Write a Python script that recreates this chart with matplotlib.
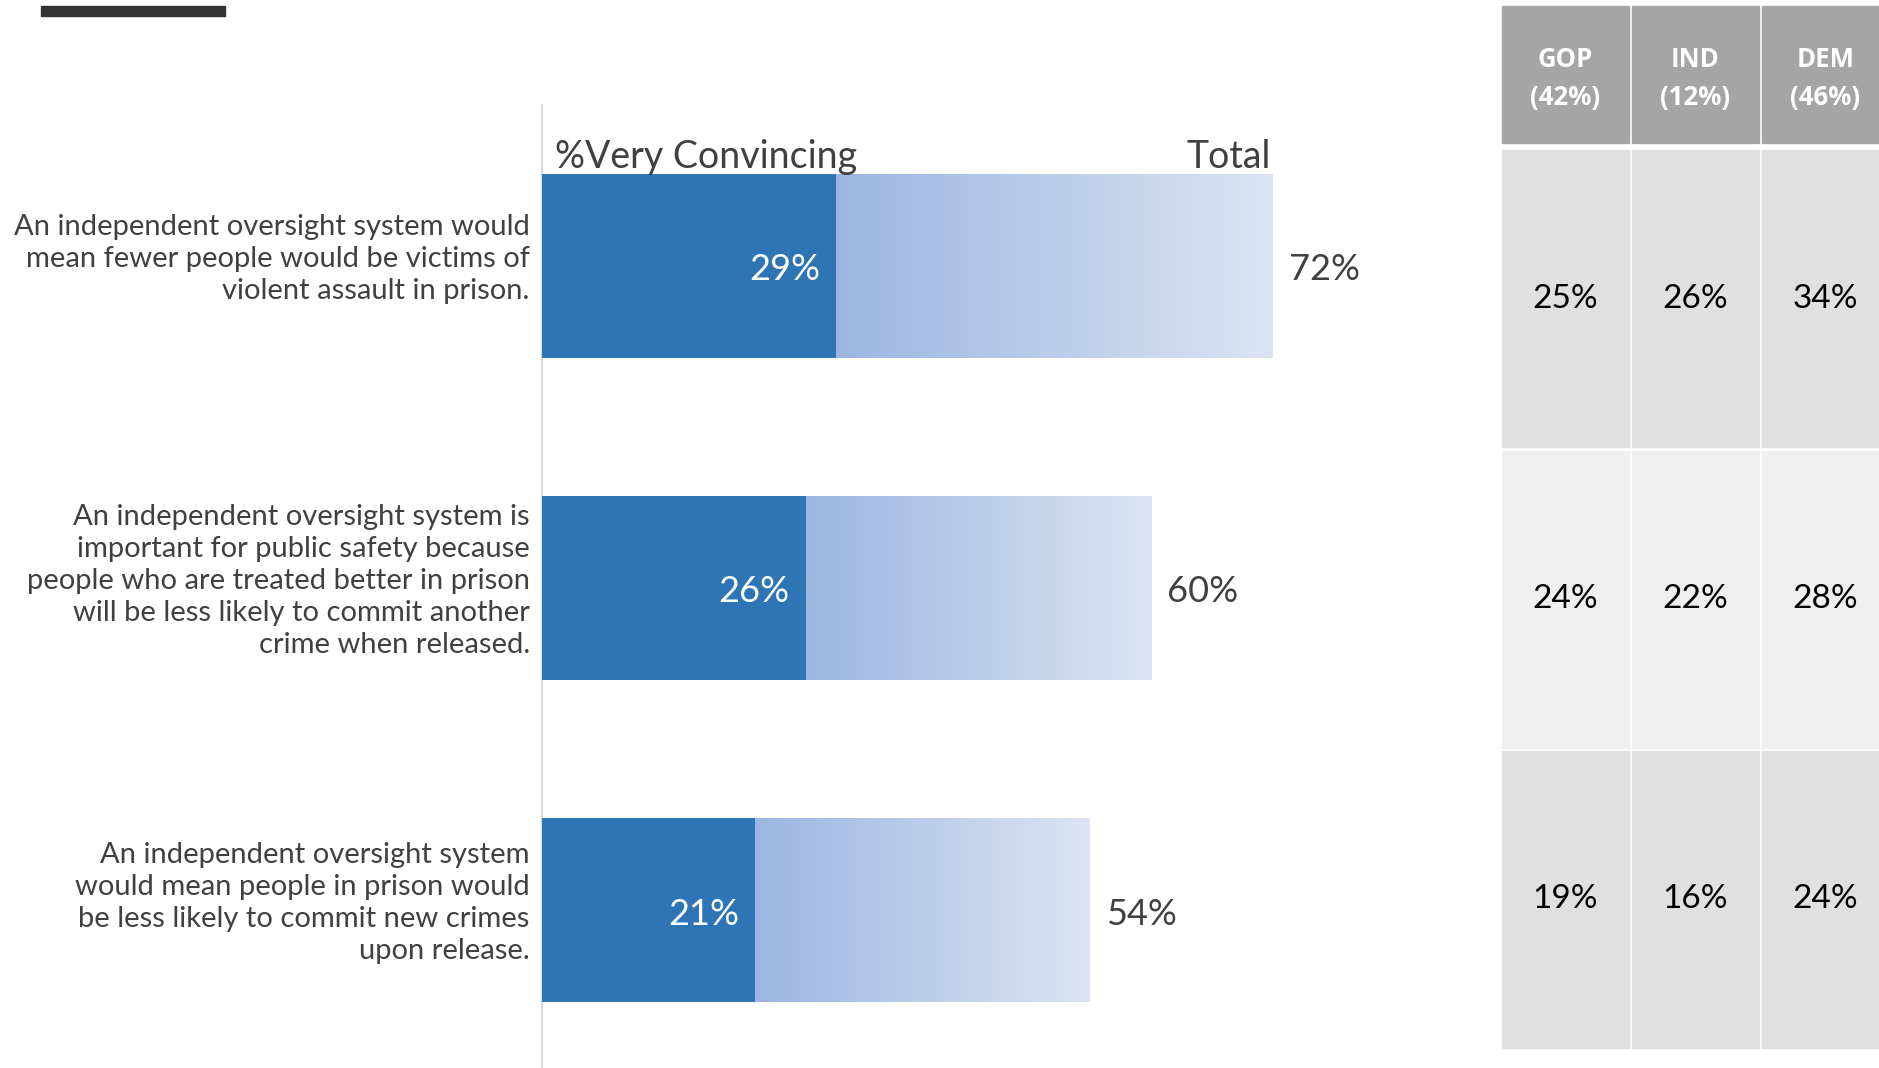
import numpy as np
import matplotlib.pyplot as plt
from matplotlib.colors import LinearSegmentedColormap
from matplotlib.patches import Rectangle

plt.rcParams['font.family'] = ['Lato', 'DejaVu Sans']

# data
statements = [
    "An independent oversight system would\nmean fewer people would be victims of\nviolent assault in prison.",
    "An independent oversight system is\nimportant for public safety because\npeople who are treated better in prison\nwill be less likely to commit another\ncrime when released.",
    "An independent oversight system\nwould mean people in prison would\nbe less likely to commit new crimes\nupon release.",
]
very_convincing = [29, 26, 21]
total = [72, 60, 54]
parties = ["GOP", "IND", "DEM"]
party_share = ["(42%)", "(12%)", "(46%)"]
gop = [25, 24, 19]
ind = [26, 22, 16]
dem = [34, 28, 24]

W, H = 1879, 1068
fig = plt.figure(figsize=(W / 100, H / 100), dpi=100)
txt = '#404040'

# bar panel: starts at x=542px, 10.15 px per percent
ax = fig.add_axes([542 / W, 0, 1015 / W, 1 - 105 / H])
ax.patch.set_visible(False)
for s in ['top', 'right', 'bottom']:
    ax.spines[s].set_visible(False)
ax.spines['left'].set_color('#d9d9d9')
ax.spines['left'].set_linewidth(1.5)
ax.set_xticks([])
ax.set_yticks([])

y = np.arange(len(statements))
h = 0.571
cmap = LinearSegmentedColormap.from_list('fade', ['#9bb6e1', '#dce4f3'])
grad = np.linspace(0, 1, 256).reshape(1, -1)

ax.barh(y, very_convincing, height=h, color='#2e75b6', zorder=3)
for yi, vc, tot in zip(y, very_convincing, total):
    ax.imshow(grad, cmap=cmap, extent=[vc, tot, yi + h / 2, yi - h / 2],
              aspect='auto', zorder=2, interpolation='bilinear')
    ax.text(vc - 1.6, yi + 0.012, f"{vc}%", ha='right', va='center', color='white',
            fontsize=26, zorder=4)
    ax.text(tot + 1.6, yi + 0.012, f"{tot}%", ha='left', va='center', color=txt,
            fontsize=26)

for yi, lab in zip(y, statements):
    ax.text(-1.2, yi - 0.022, lab, ha='right', va='center', color=txt,
            fontsize=21, linespacing=1.28)

ax.text(1.3, -0.304, "%Very Convincing", ha='left', va='baseline', color=txt,
        fontsize=27)
ax.text(total[0] - 0.2, -0.304, "Total", ha='right', va='baseline', color=txt,
        fontsize=27)

ax.set_xlim(0, 100)
ax.set_ylim(2.49, -0.5)

# overlay in pixel coordinates for the table and the top-left rule
ov = fig.add_axes([0, 0, 1, 1])
ov.set_xlim(0, W)
ov.set_ylim(H, 0)
ov.axis('off')
ov.patch.set_visible(False)

ov.add_patch(Rectangle((41, 6), 184, 10, color='#333333'))

col_x0, col_w, col_step = 1502, 127, 130
row_top0, row_h, row_step = 150, 297, 300.5
row_colors = ['#e0e0e0', '#efefef', '#e0e0e0']
cols = [gop, ind, dem]
head_font = ['Open Sans', 'DejaVu Sans']

for j, (p, sh, vals) in enumerate(zip(parties, party_share, cols)):
    x0 = col_x0 + j * col_step
    ov.add_patch(Rectangle((x0, 6), col_w, 137, color='#a5a5a5'))
    ov.text(x0 + col_w / 2, 59.5, p, ha='center', va='center', color='white',
            fontsize=18.5, fontweight='bold', family=head_font)
    ov.text(x0 + col_w / 2, 98, sh, ha='center', va='center', color='white',
            fontsize=18.5, fontweight='bold', family=head_font)
    for i, v in enumerate(vals):
        top = row_top0 + i * row_step
        ov.add_patch(Rectangle((x0, top), col_w, row_h, color=row_colors[i]))
        ov.text(x0 + col_w / 2, top + row_h / 2, f"{v}%", ha='center', va='center',
                color='black', fontsize=24)

fig.savefig('out.png', dpi=100)
